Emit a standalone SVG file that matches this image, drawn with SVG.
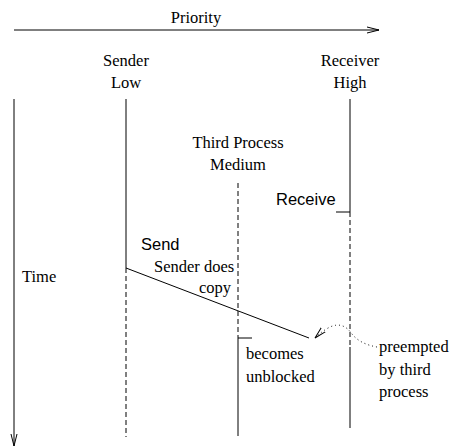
<svg xmlns="http://www.w3.org/2000/svg" width="451" height="448" viewBox="0 0 451 448">
<defs>
<marker id="open" markerWidth="14" markerHeight="10" refX="12" refY="4" orient="auto" markerUnits="userSpaceOnUse">
<path d="M0,1 L12,4 L0,7" fill="none" stroke="#000" stroke-width="1"/>
</marker>
</defs>
<style>
.s{font-family:'Liberation Serif','Times New Roman','DejaVu Serif',Times,serif;font-size:16.5px;fill:#000}
.h{font-family:'Liberation Sans',Arial,sans-serif;font-size:16.5px;fill:#000}
.ln{stroke:#000;stroke-width:1;fill:none}
.d{stroke:#000;stroke-width:1;fill:none;stroke-dasharray:5,3}
</style>
<rect width="451" height="448" fill="#fff"/>
<g id="axes">
<line class="ln" x1="14" y1="30" x2="379" y2="30" marker-end="url(#open)"/>
<text class="s" font-family="Liberation Serif, serif" x="196" y="23" text-anchor="middle">Priority</text>
<line class="ln" x1="14" y1="99" x2="14" y2="446" marker-end="url(#open)"/>
<text class="s" x="22" y="282">Time</text>
</g>
<g id="sender">
<text class="s" x="126" y="66" text-anchor="middle">Sender</text>
<text class="s" x="126" y="88" text-anchor="middle">Low</text>
<line class="ln" x1="126" y1="99" x2="126" y2="268"/>
<line class="d" x1="126" y1="268" x2="126" y2="437"/>
<text class="h" x="141" y="250">Send</text>
<text class="s" x="154" y="272">Sender does</text>
<text class="s" x="199" y="293">copy</text>
</g>
<g id="third">
<text class="s" x="238" y="148" text-anchor="middle">Third Process</text>
<text class="s" x="238" y="170" text-anchor="middle">Medium</text>
<line class="d" x1="238" y1="183" x2="238" y2="338"/>
<line class="ln" x1="238" y1="338" x2="238" y2="436"/>
<line class="ln" x1="238" y1="338" x2="252" y2="338"/>
<text class="s" x="246" y="359">becomes</text>
<text class="s" x="246" y="382">unblocked</text>
</g>
<g id="receiver">
<text class="s" x="350" y="66" text-anchor="middle">Receiver</text>
<text class="s" x="350" y="88" text-anchor="middle">High</text>
<line class="ln" x1="350" y1="99" x2="350" y2="212"/>
<line class="d" x1="350" y1="212" x2="350" y2="347"/>
<line class="ln" x1="350" y1="347" x2="350" y2="428"/>
<line class="ln" x1="336" y1="212" x2="350" y2="212"/>
<text class="h" x="276" y="205">Receive</text>
<text class="s" x="379" y="352">preempted</text>
<text class="s" x="379" y="375">by third</text>
<text class="s" x="379" y="397">process</text>
</g>
<g id="connectors">
<line class="ln" x1="126" y1="268" x2="309" y2="338"/>
<path class="ln" d="M377,347 Q360,344 352,334 Q343,321 330,327 Q322,331 315,338" stroke-dasharray="1,3" marker-end="url(#open)"/>
</g>
</svg>
